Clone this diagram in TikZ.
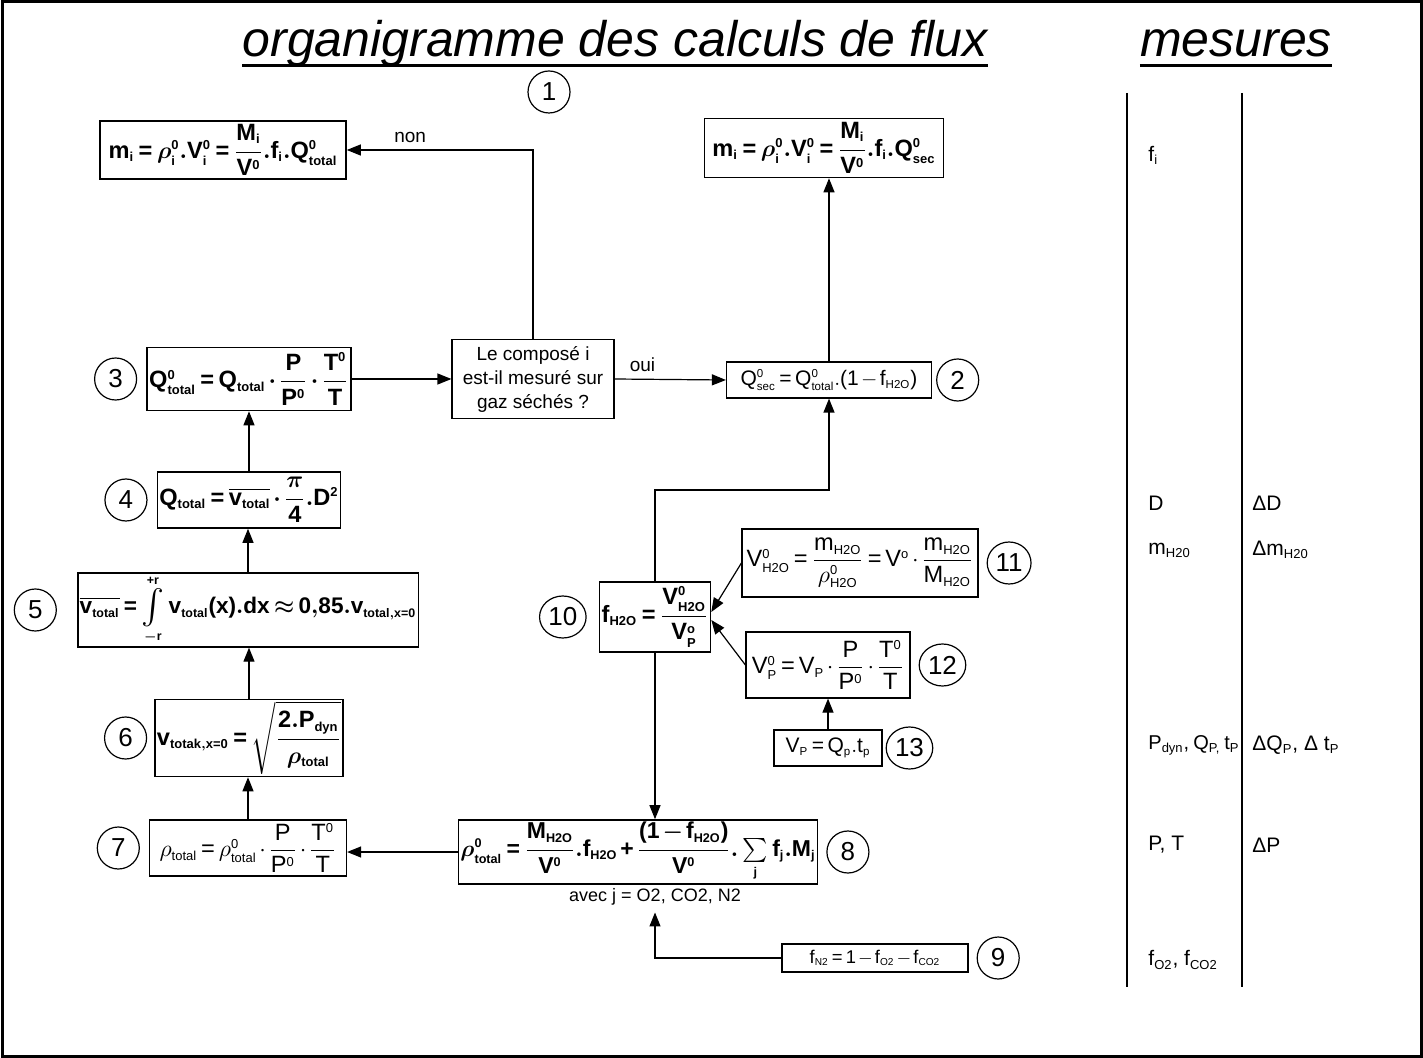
\RequirePackage{fix-cm}
\documentclass[tikz,border=0pt]{standalone}
\usepackage{amsmath}
\usepackage[no-math]{fontspec}
\setmainfont{Liberation Sans}
\DeclareSymbolFont{operators}{TU}{\rmdefault}{m}{n}
\SetSymbolFont{operators}{bold}{TU}{\rmdefault}{b}{n}
\DeclareMathAlphabet{\mathrm}{TU}{\rmdefault}{m}{n}
\SetMathAlphabet{\mathrm}{bold}{TU}{\rmdefault}{b}{n}
\DeclareMathAlphabet{\mathbf}{TU}{\rmdefault}{b}{n}
\renewcommand{\defaultscriptratio}{0.55}
\renewcommand{\defaultscriptscriptratio}{0.45}
\usetikzlibrary{positioning, arrows.meta, shapes.geometric}

\newcommand{\integr}{\mathop{\vcenter{\hbox{\fontsize{18}{18}\selectfont\boldmath$\int$}}}\limits}
\newcommand{\serre}{\thickmuskip=3mu plus 1mu\medmuskip=2mu plus 1mu}

\tikzset{
  eqb/.style={draw, line width=0.8pt, inner sep=1pt, font=\fontsize{11.8}{14}\selectfont\boldmath\serre},
  eqn/.style={draw, line width=0.6pt, inner sep=1pt, font=\fontsize{11.8}{14}\selectfont\serre},
  num/.style={draw, ellipse, line width=0.6pt, minimum width=21pt, minimum height=21pt, inner sep=1pt, font=\fontsize{13}{15}\selectfont},
  mes/.style={anchor=west, inner sep=0pt, font=\fontsize{10.5}{13}\selectfont},
  lab/.style={font=\fontsize{9.5}{12}\selectfont},
  titre/.style={anchor=base, inner sep=0pt, font=\fontsize{25}{30}\selectfont\itshape},
  fl/.style={->, line width=0.6pt},
}
\newcommand{\ind}[1]{\textsubscript{\fontsize{6.5}{8}\selectfont #1}}

\begin{document}
\begin{tikzpicture}[x=0.5pt, y=-0.5pt, >={Triangle[length=7pt,width=5.5pt]}]
\useasboundingbox (0,0) rectangle (1423,1058);
\draw[line width=1.5pt] (2,2) rectangle (1421,1056);

\node[titre] (t1) at (615,57) {organigramme des calculs de flux};
\node[titre] (t2) at (1236,57) {mesures};
\draw[line width=1.5pt] ([yshift=-4.5pt]t1.base west) -- ([yshift=-4.5pt]t1.base east);
\draw[line width=1.5pt] ([yshift=-4.5pt]t2.base west) -- ([yshift=-4.5pt]t2.base east);

\node[eqb, minimum width=123pt, minimum height=29pt] (e1) at (223,150)
  {$\mathbf{m_i = \rho_i^0.V_i^0 = \dfrac{M_i}{V^0}.f_i.Q^0_{total}}$};
\node[eqb, minimum width=119.5pt, minimum height=29.5pt] (e1s) at (824,148)
  {$\mathbf{m_i = \rho_i^0.V_i^0 = \dfrac{M_i}{V^0}.f_i.Q^0_{sec}}$};
\node[draw, line width=0.6pt, minimum width=81pt, minimum height=39pt, align=center, lab] (dec) at (533,379)
  {Le composé i\\est-il mesuré sur\\gaz séchés ?};
\node[eqn, font=\fontsize{10.5}{12}\selectfont\serre, minimum width=102.5pt, minimum height=18pt] (e2) at (829,380)
  {$\mathrm{Q^0_{sec} = Q^0_{total}.(1-f_{H2O})}$};
\node[eqb, minimum width=102pt, minimum height=31.5pt] (e3) at (249,379)
  {$\mathbf{Q^0_{total} = Q_{total}\cdot\dfrac{P}{P^0}\cdot\dfrac{T^0}{T}}$};
\node[eqb, minimum width=91pt, minimum height=28pt] (e4) at (249,500)
  {$\mathbf{Q_{total} = \overline{v_{total}}\cdot\dfrac{\pi}{4}.D^2}$};
\node[eqb, font=\fontsize{11.3}{14}\selectfont\boldmath\serre, minimum width=168pt, minimum height=30.5pt] (e5) at (248,610)
  {$\mathbf{\overline{v_{total}} = \integr_{-r}^{+r} v_{total}(x).dx \approx 0{,}85.v_{total,x=0}}$};
\node[eqb, minimum width=92pt, minimum height=35pt] (e6) at (249,738)
  {$\mathbf{v_{totak,x=0} = \sqrt{\dfrac{2.P_{dyn}}{\rho_{total}}}}$};
\node[eqn, minimum width=98.5pt, minimum height=28pt] (e7) at (248,848)
  {$\mathrm{\rho_{total} = \rho^0_{total}\cdot\dfrac{P}{P^0}\cdot\dfrac{T^0}{T}}$};
\node[eqb, font=\fontsize{11.5}{14}\selectfont\boldmath\serre, minimum width=163.5pt, minimum height=32pt] (e8) at (638,852)
  {$\mathbf{\rho^0_{total} = \dfrac{M_{H2O}}{V^0}.f_{H2O} + \dfrac{(1-f_{H2O})}{V^0}.\sum\limits_j f_j.M_j}$};
\node[lab, font=\fontsize{9}{11}\selectfont] (avec) at (655,897) {avec j = O2, CO2, N2};
\node[eqn, font=\fontsize{9.2}{11}\selectfont\serre, minimum width=93pt, minimum height=14pt] (e9) at (875,958)
  {$\mathrm{f_{N2} = 1 - f_{O2} - f_{CO2}}$};
\node[eqb, minimum width=55.5pt, minimum height=35pt] (e10) at (655,617)
  {$\mathbf{f_{H2O} = \dfrac{V^0_{H2O}}{V^o_P}}$};
\node[eqn, minimum width=118pt, minimum height=34pt] (e11) at (860,563)
  {$\mathrm{V^0_{H2O} = \dfrac{m_{H2O}}{\rho^0_{H2O}} = V^o\cdot\dfrac{m_{H2O}}{M_{H2O}}}$};
\node[eqn, minimum width=82pt, minimum height=33pt] (e12) at (828,665)
  {$\mathrm{V^0_P = V_P\cdot\dfrac{P}{P^0}\cdot\dfrac{T^0}{T}}$};
\node[eqn, font=\fontsize{10.5}{12}\selectfont\serre, minimum width=54pt, minimum height=18pt] (e13) at (828,748)
  {$\mathrm{V_P = Q_p.t_p}$};

\node[num] (n1) at (549,92) {1};
\node[num, right=2pt of e2] (n2) {2};
\node[num, left=4.5pt of e3] (n3) {3};
\node[num, left=4.5pt of e4] (n4) {4};
\node[num, left=10pt of e5] (n5) {5};
\node[num, left=3.5pt of e6] (n6) {6};
\node[num, left=4.5pt of e7] (n7) {7};
\node[num, right=4pt of e8] (n8) {8};
\node[num, right=4pt of e9] (n9) {9};
\node[num, left=6pt of e10] (n10) {10};
\node[num, right=4pt of e11] (n11) {11};
\node[num, right=4pt of e12] (n12) {12};
\node[num, right=1.5pt of e13] (n13) {13};

\coordinate (k) at (829,490);
\draw[fl] (e3.east) -- (dec.west);
\draw[fl] (dec.east) -- node[lab, pos=0.25, above] (oui) {oui} (e2.west);
\draw[fl] (dec.north) |- node[lab, pos=0.83, above] (non) {non} (e1.east);
\draw[fl] (e2.north) -- (e2.north |- e1s.south);
\draw[fl] (e4.north) -- (e4.north |- e3.south);
\draw[fl] (e5.north) -- (e5.north |- e4.south);
\draw[fl] (e6.north) -- (e6.north |- e5.south);
\draw[fl] (e7.north) -- (e7.north |- e6.south);
\draw[fl] (e8.west) -- (e8.west -| e7.east);
\draw[fl] (e10.north) |- (k) -- (e2.south);
\draw[fl] (e10.south) -- (e10.south |- e8.north);
\draw[fl] (e11.west) -- ([yshift=2.5pt]e10.east);
\draw[fl] (e12.west) -- ([yshift=-1.5pt]e10.east);
\draw[fl] (e13.north) -- (e13.north |- e12.south);
\draw[fl] (e9.west) -| (avec.south);

\draw[line width=0.6pt] (1127,93) -- (1127,987);
\draw[line width=0.6pt] (1242,93) -- (1242,987);
\node[mes] (m1) at (1148,155) {f\ind{i}};
\node[mes] (m2) at (1148,503) {D};
\node[mes] (m3) at (1148,550) {m\ind{H20}};
\node[mes, font=\fontsize{10}{12}\selectfont] (m4) at (1148,745) {P\ind{dyn},\hspace{2pt}Q\ind{P,}\hspace{2pt}t\ind{P}};
\node[mes] (m5) at (1148,845) {P, T};
\node[mes] (m6) at (1148,960) {f\ind{O2}, f\ind{CO2}};
\node[mes] (d2) at (1252,503) {ΔD};
\node[mes] (d3) at (1252,550) {Δm\ind{H20}};
\node[mes] (d4) at (1252,745) {ΔQ\ind{P}, Δ t\ind{P}};
\node[mes] (d5) at (1252,845) {ΔP};
\end{tikzpicture}
\end{document}
